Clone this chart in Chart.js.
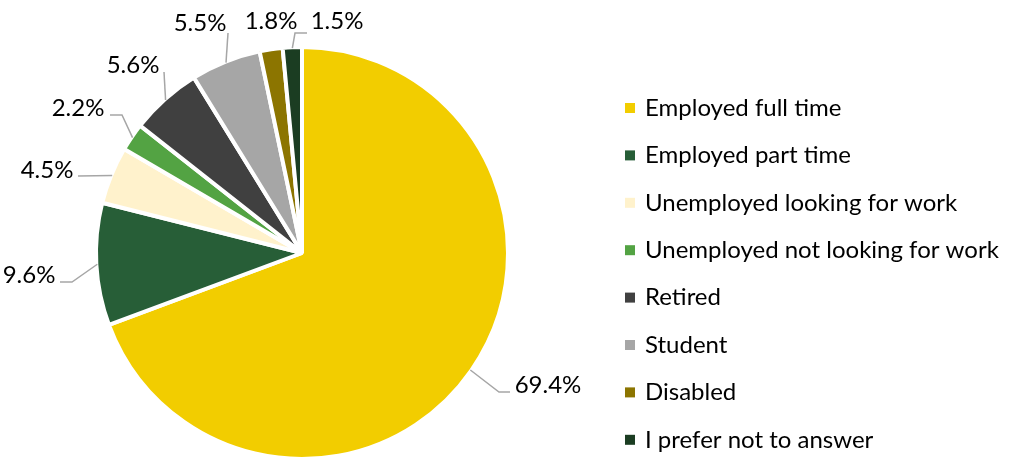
<!DOCTYPE html>
<html>
<head>
<meta charset="utf-8">
<script src="https://cdn.jsdelivr.net/npm/chart.js@4"></script>
<style>
  html, body { margin: 0; padding: 0; background: #fff; overflow: hidden; }
  #wrap { width: 1011px; height: 470px; }
</style>
</head>
<body>
<div id="wrap"><canvas id="pieChart" width="1011" height="470"></canvas></div>
<script>
var categories = ['Employed full time', 'Employed part time', 'Unemployed looking for work',
    'Unemployed not looking for work', 'Retired', 'Student', 'Disabled', 'I prefer not to answer'];
var shares = [69.4, 9.6, 4.5, 2.2, 5.6, 5.5, 1.8, 1.5];
var shareLabels = ['69.4%', '9.6%', '4.5%', '2.2%', '5.6%', '5.5%', '1.8%', '1.5%'];

var colors = ['#F2CD00', '#275E37', '#FFF2CC', '#53A343', '#404040', '#A6A6A6', '#8C7500', '#1B3D22'];
var fontFamily = 'Lato, "Open Sans", sans-serif';

// where each percentage label sits (text centre) and how its leader line bends
var labelLayout = [
    { x: 548, y: 385, elbow: [499, 392], end: [510, 392] },
    { x: 29, y: 275, elbow: [72, 282], end: [60, 282] },
    { x: 47, y: 170, elbow: null, end: [78, 176] },
    { x: 78, y: 108, elbow: [122, 115], end: [110, 115] },
    { x: 133, y: 65, elbow: null, end: [164, 72] },
    { x: 200, y: 23, elbow: null, end: [228, 33] },
    { x: 271, y: 21, elbow: null, end: null },
    { x: 337, y: 21, elbow: [295, 33], end: [307, 33] }
];

var labelPlugin = {
    id: 'pieLabels',
    afterDatasetsDraw: function (chart) {
        var ctx = chart.ctx;
        var arcs = chart.getDatasetMeta(0).data;
        ctx.save();
        for (var i = 0; i < arcs.length; i++) {
            var a = arcs[i];
            var p = a.getProps(['x', 'y', 'startAngle', 'endAngle', 'outerRadius'], true);
            var mid = (p.startAngle + p.endAngle) / 2;
            var sx = p.x + Math.cos(mid) * (p.outerRadius - 1);
            var sy = p.y + Math.sin(mid) * (p.outerRadius - 1);
            var lay = labelLayout[i];
            if (lay.end) {
                ctx.strokeStyle = '#A6A6A6';
                ctx.lineWidth = 1.5;
                ctx.beginPath();
                ctx.moveTo(sx, sy);
                if (lay.elbow) ctx.lineTo(lay.elbow[0], lay.elbow[1]);
                ctx.lineTo(lay.end[0], lay.end[1]);
                ctx.stroke();
            }
            ctx.fillStyle = '#000';
            ctx.font = '24px ' + fontFamily;
            ctx.textAlign = 'center';
            ctx.textBaseline = 'middle';
            ctx.fillText(shareLabels[i], lay.x, lay.y);
        }

        // legend
        var lx = 625, ly = 108, step = 47.4;
        ctx.font = '24px ' + fontFamily;
        ctx.textAlign = 'left';
        for (var j = 0; j < categories.length; j++) {
            var y = ly + j * step;
            ctx.fillStyle = colors[j];
            ctx.fillRect(lx, y - 5, 10, 10);
            ctx.fillStyle = '#000';
            ctx.fillText(categories[j], lx + 20, y);
        }
        ctx.restore();
    }
};

document.addEventListener('DOMContentLoaded', function () {
    var ctx = document.getElementById('pieChart').getContext('2d');
    new Chart(ctx, {
        type: 'pie',
        data: {
            labels: categories,
            datasets: [{
                data: shares,
                backgroundColor: colors,
                borderColor: '#ffffff',
                borderWidth: 4
            }]
        },
        options: {
            responsive: false,
            animation: false,
            layout: { padding: { left: 94, right: 501, top: 45, bottom: 9 } },
            plugins: {
                legend: { display: false },
                tooltip: { enabled: false }
            }
        },
        plugins: [labelPlugin]
    });
});
</script>
</body>
</html>
